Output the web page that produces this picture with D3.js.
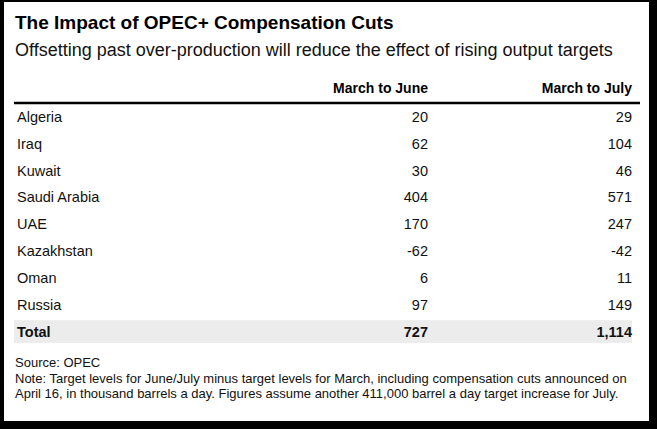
<!DOCTYPE html>
<html><head><meta charset="utf-8">
<script src="https://cdn.jsdelivr.net/npm/d3@7"></script>
<style>body{margin:0;background:#fff}svg{font-family:"Liberation Sans",Arial,sans-serif}</style>
</head><body><svg id="chart" width="657" height="429"></svg>
<script>
// table data
var countries = ["Algeria","Iraq","Kuwait","Saudi Arabia","UAE","Kazakhstan","Oman","Russia"]
var marchToJune = [20,62,30,404,170,-62,6,97]
var marchToJuly = [29,104,46,571,247,-42,11,149]
var headers = ["March to June","March to July"]
var totals = [727,1114]
var noteLines = ["Source: OPEC",
  "Note: Target levels for June/July minus target levels for March, including compensation cuts announced on",
  "April 16, in thousand barrels a day. Figures assume another 411,000 barrel a day target increase for July."]

var svg = d3.select("#chart")
var fmt = v => d3.format(",")(v).replace("\u2212","-")

// frame with heavy shadow right/bottom
svg.append("rect").attr("x",0).attr("y",0).attr("width",657).attr("height",429).attr("fill","#000")
svg.append("rect").attr("x",4).attr("y",2).attr("width",645).attr("height",419).attr("fill","#fff")

svg.append("text").attr("x",15).attr("y",29).attr("font-size",19).attr("font-weight","bold")
  .attr("fill","#000").text("The Impact of OPEC+ Compensation Cuts")
svg.append("text").attr("x",15).attr("y",56).attr("font-size",18).attr("fill","#111")
  .text("Offsetting past over-production will reduce the effect of rising output targets")

var rows = countries.map((c,i) => [c, marchToJune[i], marchToJuly[i]])
rows.push(["Total", totals[0], totals[1]])

var y = d3.scaleBand().domain(d3.range(rows.length)).range([103.5, 345]).paddingInner(0).paddingOuter(0)
var colX = [17, 428, 632]

svg.append("g").selectAll("text").data(headers).join("text")
  .attr("x",(d,i)=>colX[i+1]).attr("y",93).attr("text-anchor","end")
  .attr("font-size",14).attr("font-weight","bold").text(d=>d)

svg.append("line").attr("x1",14).attr("x2",640).attr("y1",103).attr("y2",103)
  .attr("stroke","#000").attr("stroke-width",2.5)

var last = rows.length-1
svg.append("rect").attr("x",14).attr("y",y(last)+2).attr("width",618).attr("height",y.bandwidth()-4)
  .attr("fill","#ececec")

var g = svg.append("g").selectAll("g").data(rows).join("g")
  .attr("transform",(d,i)=>"translate(0,"+(y(i)+y.bandwidth()/2+5)+")")
g.each(function(d,i){
  var s = d3.select(this)
  d.forEach((v,j)=>{
    s.append("text").attr("x",colX[j]).attr("text-anchor", j==0?"start":"end")
      .attr("font-size",14.5).attr("font-weight", i==last?"bold":"normal").attr("fill","#111")
      .text(j==0 ? v : fmt(v))
  })
})

svg.append("g").selectAll("text").data(noteLines).join("text")
  .attr("x",15).attr("y",(d,i)=>367+i*15.5).attr("font-size",13).attr("fill","#111").text(d=>d)
</script></body></html>
